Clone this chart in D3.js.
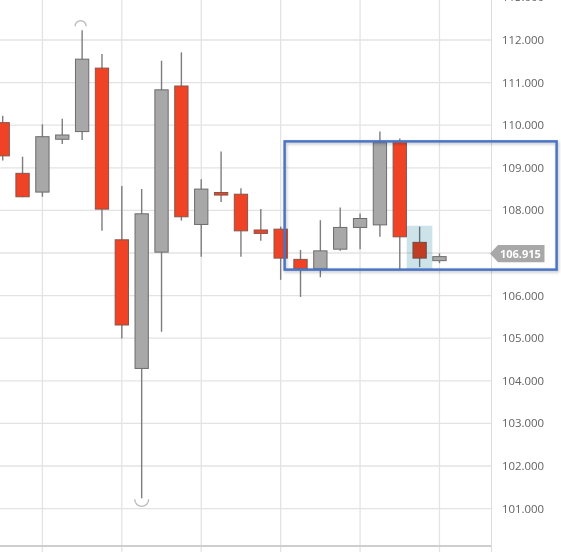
<!DOCTYPE html>
<html>
<head>
<meta charset="utf-8">
<script src="https://cdn.jsdelivr.net/npm/d3@7"></script>
<style>
  body { margin: 0; background: #fff; }
  #chart svg { display: block; font-family: "Open Sans", sans-serif; }
</style>
</head>
<body>
<div id="chart"></div>
<script>
// ohlc per bar
var opens  = [110.06, 108.87, 108.43, 109.67, 109.85, 111.34, 107.31, 104.29, 107.02, 110.92, 107.67, 108.42, 108.38, 107.54, 107.56, 106.85, 106.63, 107.09, 107.60, 107.66, 109.61, 107.25, 106.82];
var highs  = [110.22, 109.26, 110.02, 110.15, 112.23, 111.67, 108.57, 108.50, 111.51, 111.71, 108.73, 109.38, 108.52, 108.03, 107.62, 107.07, 107.77, 108.07, 107.93, 109.85, 109.69, 107.62, 106.99];
var lows   = [109.17, 108.31, 108.32, 109.56, 109.65, 107.52, 104.99, 101.24, 105.15, 107.76, 106.91, 108.20, 106.91, 107.29, 106.37, 105.97, 106.43, 107.05, 107.09, 107.38, 106.62, 106.67, 106.76];
var closes = [109.28, 108.32, 109.73, 109.77, 111.55, 108.03, 105.31, 107.92, 110.83, 107.85, 108.50, 108.36, 107.52, 107.46, 106.88, 106.63, 107.05, 107.60, 107.81, 109.59, 107.38, 106.88, 106.915];
var priceTicks = [101, 102, 103, 104, 105, 106, 107, 108, 109, 110, 111, 112, 113];
var timeTicks = [2, 6, 10, 14, 18, 22];

// drawn box and hover band, in bar / price units
var boxBars = [14.2, 27.9];
var boxPrices = [109.62, 106.61];
var hoverBar = 21;
var hoverPrices = [107.64, 106.61];

var width = 561, height = 552;
var plotRight = 491.5, plotBottom = 546;

var data = opens.map(function(o, i) {
  return {i: i, open: o, high: highs[i], low: lows[i], close: closes[i]};
});
var lastClose = closes[closes.length - 1];

var x = d3.scaleLinear().domain([-0.136, 24.62]).range([0, plotRight]);
var y = d3.scaleLinear().domain([100.122, 112.939]).range([plotBottom, 0]);
var step = x(1) - x(0);
var bodyW = step * 0.67;
var ty = y(lastClose) - 3;

var svg = d3.select('#chart').append('svg')
  .attr('width', width)
  .attr('height', height);

var defs = svg.append('defs');
defs.append('filter').attr('id', 'shadow')
  .attr('x', '-5%').attr('y', '-5%').attr('width', '110%').attr('height', '120%')
  .append('feDropShadow')
    .attr('dx', 1).attr('dy', 1.5).attr('stdDeviation', 1.5)
    .attr('flood-color', '#000').attr('flood-opacity', 0.25);

// grid
svg.append('g')
  .selectAll('line')
  .data(priceTicks)
  .enter().append('line')
    .attr('x1', 0).attr('x2', plotRight)
    .attr('y1', function(d) { return y(d); })
    .attr('y2', function(d) { return y(d); })
    .attr('stroke', '#e3e3e3').attr('stroke-width', 1.3);

svg.append('g')
  .selectAll('line')
  .data(timeTicks)
  .enter().append('line')
    .attr('x1', function(d) { return x(d); })
    .attr('x2', function(d) { return x(d); })
    .attr('y1', 0).attr('y2', height)
    .attr('stroke', '#e3e3e3').attr('stroke-width', 1.3);

// axes lines
svg.append('line')
  .attr('x1', 0).attr('x2', plotRight)
  .attr('y1', plotBottom).attr('y2', plotBottom)
  .attr('stroke', '#cecece').attr('stroke-width', 2);
svg.append('line')
  .attr('x1', plotRight).attr('x2', plotRight)
  .attr('y1', 0).attr('y2', height)
  .attr('stroke', '#dcdcdc').attr('stroke-width', 1);

// price labels (the one under the last price tag is hidden, as in the app)
svg.append('g')
  .selectAll('text')
  .data(priceTicks.filter(function(d) { return Math.abs(y(d) - ty) > 12; }))
  .enter().append('text')
    .text(function(d) { return d3.format('.3f')(d); })
    .attr('x', 502)
    .attr('y', function(d) { return y(d); })
    .attr('dy', '0.35em')
    .attr('font-size', 11.4)
    .attr('fill', '#626262');

// candles
var candles = svg.append('g')
  .selectAll('g')
  .data(data)
  .enter().append('g');

candles.append('line')
  .attr('x1', function(d) { return x(d.i); })
  .attr('x2', function(d) { return x(d.i); })
  .attr('y1', function(d) { return y(d.high); })
  .attr('y2', function(d) { return y(d.low); })
  .attr('stroke', '#7d7d7d').attr('stroke-width', 1.4);

candles.append('rect')
  .attr('x', function(d) { return x(d.i) - bodyW / 2; })
  .attr('width', bodyW)
  .attr('y', function(d) { return y(Math.max(d.open, d.close)); })
  .attr('height', function(d) { return Math.max(1.5, Math.abs(y(d.open) - y(d.close))); })
  .attr('fill', function(d) { return d.close >= d.open ? '#a8a8a8' : '#f04326'; })
  .attr('stroke', function(d) { return d.close >= d.open ? '#6c6c6c' : '#85564c'; })
  .attr('stroke-width', 1);

// highest high / lowest low markers
var hi = d3.maxIndex(data, function(d) { return d.high; });
var lo = d3.minIndex(data, function(d) { return d.low; });
var arc = d3.arc().innerRadius(5.5).outerRadius(5.5);
svg.append('path')
  .attr('d', arc({startAngle: -Math.PI / 2, endAngle: Math.PI / 2}))
  .attr('transform', 'translate(' + (x(hi) - 1.5) + ',' + (y(highs[hi]) - 4) + ')')
  .attr('fill', 'none').attr('stroke', '#bdbdbd').attr('stroke-width', 1.4);
svg.append('path')
  .attr('d', d3.arc().innerRadius(7).outerRadius(7)({startAngle: Math.PI / 2, endAngle: Math.PI * 1.5}))
  .attr('transform', 'translate(' + x(lo) + ',' + (y(lows[lo]) + 1) + ')')
  .attr('fill', 'none').attr('stroke', '#bdbdbd').attr('stroke-width', 1.4);

// hover band
svg.append('rect')
  .attr('x', x(hoverBar) - step * 0.65)
  .attr('width', step * 1.29)
  .attr('y', y(hoverPrices[0]))
  .attr('height', y(hoverPrices[1]) - y(hoverPrices[0]))
  .attr('fill', '#cde3ea')
  .style('mix-blend-mode', 'multiply');

// drawn rectangle
svg.append('rect')
  .attr('x', x(boxBars[0]))
  .attr('width', x(boxBars[1]) - x(boxBars[0]))
  .attr('y', y(boxPrices[0]))
  .attr('height', y(boxPrices[1]) - y(boxPrices[0]))
  .attr('fill', 'none')
  .attr('stroke', '#4a74c5')
  .attr('stroke-width', 2.5)
  .attr('filter', 'url(#shadow)');

// last price tag
var tag = svg.append('g').attr('transform', 'translate(490,' + ty + ')');
tag.append('path')
  .attr('d', 'M0,0 L8,-8.6 L54.5,-8.6 L54.5,8.6 L8,8.6 Z')
  .attr('fill', '#a8a8a8');
tag.append('text')
  .text(d3.format('.3f')(lastClose))
  .attr('x', 10)
  .attr('dy', '0.36em')
  .attr('font-size', 11)
  .attr('font-weight', 'bold')
  .attr('fill', '#fff');
</script>
</body>
</html>
